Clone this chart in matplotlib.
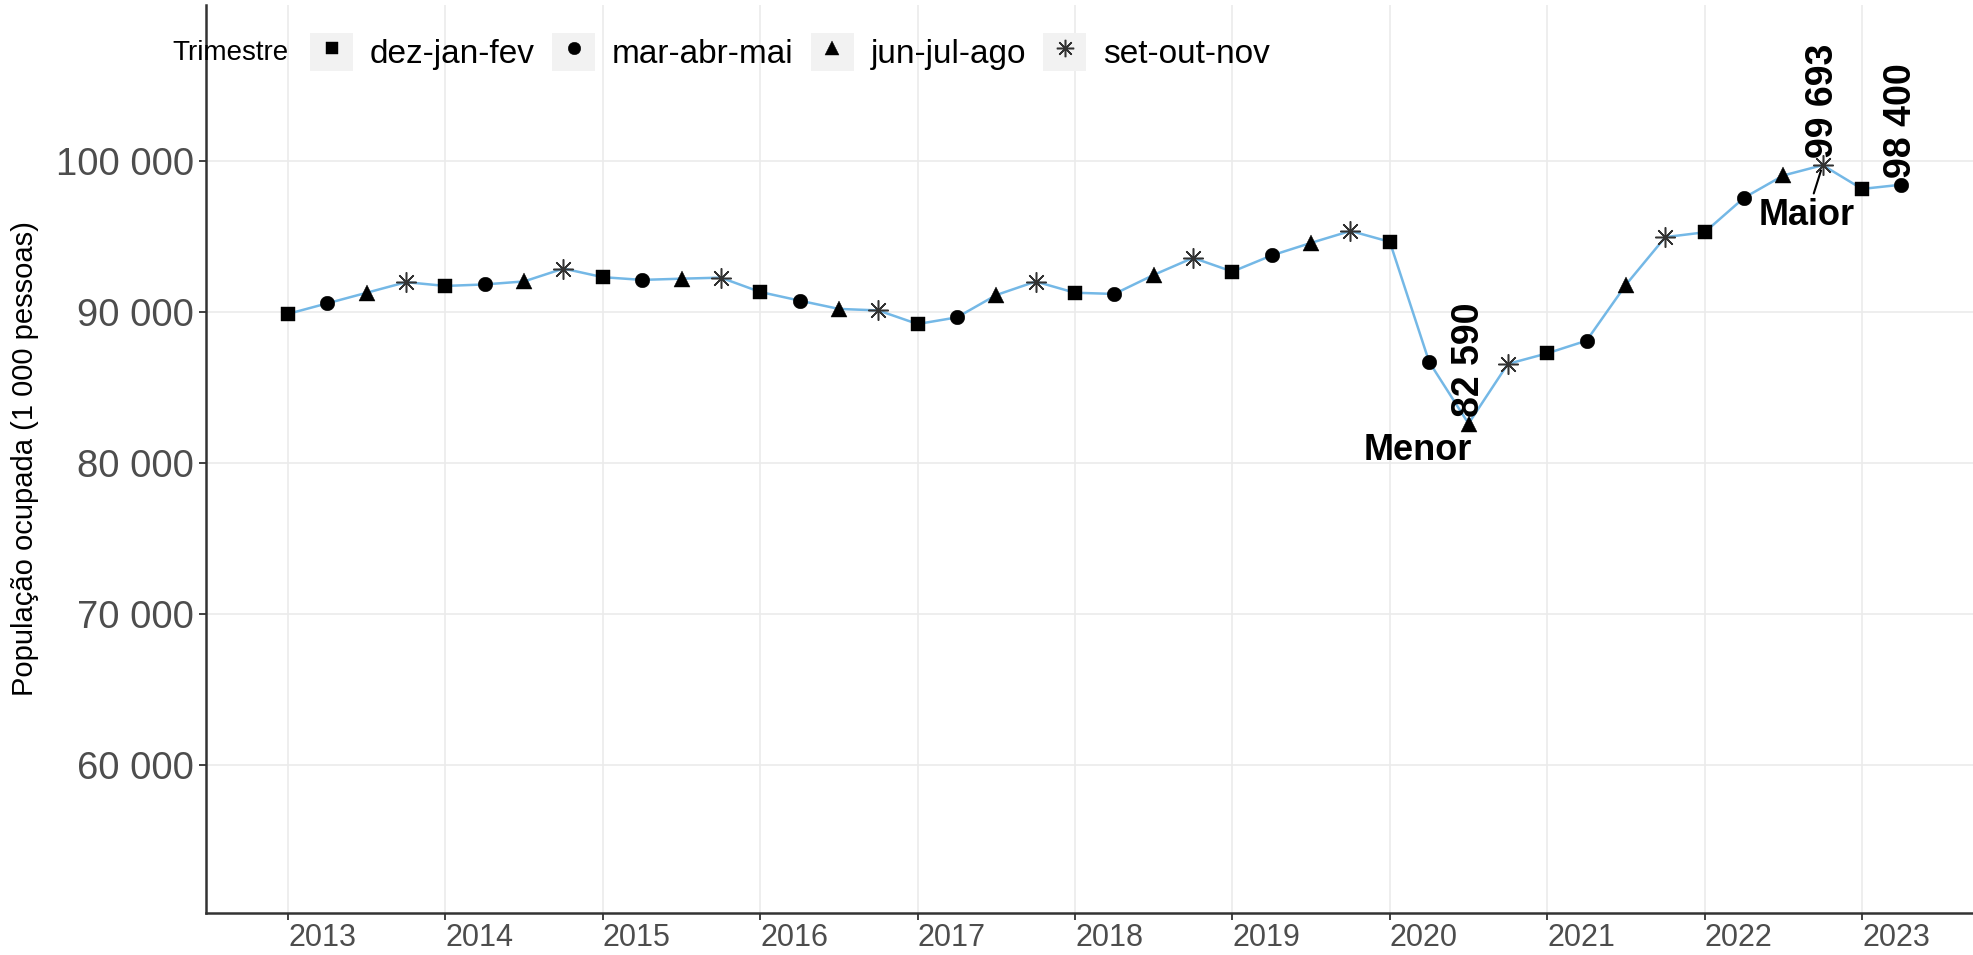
import matplotlib
matplotlib.use("Agg")
import matplotlib.pyplot as plt
from matplotlib.legend_handler import HandlerLine2D
from matplotlib.patches import Rectangle
from matplotlib.lines import Line2D
from matplotlib.ticker import FuncFormatter, FixedLocator

plt.rcParams["font.family"] = ["Liberation Sans", "DejaVu Sans"]

# ---- data ----
trimestres = ["dez-jan-fev", "mar-abr-mai", "jun-jul-ago", "set-out-nov"]
ano_inicial = 2013
valores = [
    89850, 90550, 91250, 91950,   # 2013
    91700, 91800, 92000, 92850,   # 2014
    92280, 92100, 92180, 92250,   # 2015
    91300, 90730, 90180, 90080,   # 2016
    89180, 89620, 91100, 91990,   # 2017
    91250, 91170, 92430, 93560,   # 2018
    92650, 93720, 94550, 95340,   # 2019
    94620, 86670, 82590, 86540,   # 2020
    87240, 88080, 91780, 94930,   # 2021
    95250, 97530, 99010, 99693,   # 2022
    98120, 98400,                 # 2023
]
anos_ticks = list(range(2013, 2024))
y_ticks = [60000, 70000, 80000, 90000, 100000]

n = len(valores)
tempo = [ano_inicial + i // 4 + (i % 4) * 0.25 for i in range(n)]
trim_idx = [i % 4 for i in range(n)]

i_min = valores.index(min(valores))
i_max = valores.index(max(valores))
i_last = n - 1

# ---- styles ----
line_color = "#74B8E6"
markers = ["s", "o", "^", (8, 2, 0)]
msizes = [10.5, 10.5, 11, 14.5]
leg_msizes = [9, 9, 9.5, 12.5]

fig = plt.figure(figsize=(19.73, 9.55), dpi=100)
ax = fig.add_axes([206 / 1973, 42 / 955, 1767 / 1973, 908 / 955])

ax.plot(tempo, valores, color=line_color, lw=1.8, zorder=2)
handles = []
for q in range(4):
    xs = [t for t, k in zip(tempo, trim_idx) if k == q]
    ys = [v for v, k in zip(valores, trim_idx) if k == q]
    if q == 3:
        style = dict(mec="#333333", mfc="none", mew=1.1)
    else:
        style = dict(mec="black", mfc="black", mew=0.3)
    ax.plot(xs, ys, ls="none", marker=markers[q], ms=msizes[q], zorder=3, **style)
    handles.append(Line2D([], [], ls="none", marker=markers[q], ms=leg_msizes[q], **style))

ax.set_xlim(2012.479, 2023.705)
ax.set_ylim(50205, 110291)
ax.xaxis.set_major_locator(FixedLocator(anos_ticks))
ax.yaxis.set_major_locator(FixedLocator(y_ticks))
ax.yaxis.set_major_formatter(FuncFormatter(lambda v, p: f"{v:,.0f}".replace(",", " ")))

ax.grid(True, color="#EBEBEB", lw=1.2, zorder=0)
ax.set_axisbelow(True)
for s in ["top", "right"]:
    ax.spines[s].set_visible(False)
for s in ["left", "bottom"]:
    ax.spines[s].set_color("#333333")
    ax.spines[s].set_linewidth(1.8)
ax.tick_params(axis="both", direction="out", length=5, width=1.3, color="#333333",
               colors="#4D4D4D")
ax.tick_params(axis="y", labelsize=27.5, pad=3.6)
ax.tick_params(axis="x", labelsize=22, pad=2)
for lab in ax.get_xticklabels():
    lab.set_horizontalalignment("left")
for lab in ax.get_xticklabels() + ax.get_yticklabels():
    lab.set_color("#4D4D4D")

ax.set_ylabel("População ocupada (1 000 pessoas)", fontsize=21, color="black", labelpad=12)

# ---- value labels ----
def fmt(v):
    return f"{v:,.0f}".replace(",", " ")

for i in [i_min, i_max, i_last]:
    ax.annotate(fmt(valores[i]), xy=(tempo[i], valores[i]), xytext=(0, 5),
                textcoords="offset points", rotation=90, rotation_mode="anchor",
                ha="left", va="center", fontsize=27, fontweight="bold", zorder=5)

ax.annotate("Menor", xy=(tempo[i_min], valores[i_min]), xytext=(2020.18, 80840),
            ha="center", va="center", fontsize=26, fontweight="bold", zorder=5)
ax.annotate("Maior", xy=(tempo[i_max], valores[i_max]), xytext=(2022.65, 96390),
            ha="center", va="center", fontsize=26, fontweight="bold", zorder=5,
            arrowprops=dict(arrowstyle="-", lw=1.5, color="black", shrinkA=1, shrinkB=4))

# ---- legend ----
class KeyHandler(HandlerLine2D):
    def create_artists(self, legend, orig_handle, xdescent, ydescent, width, height,
                       fontsize, trans):
        rect = Rectangle((-xdescent, -ydescent), width, height, facecolor="#F2F2F2",
                         edgecolor="none", transform=trans)
        arts = super().create_artists(legend, orig_handle, xdescent, ydescent, width,
                                      height, fontsize, trans)
        return [rect] + list(arts)

leg_fs = 24
fpx = leg_fs * 100 / 72
leg = fig.legend(handles, trimestres, loc="center left",
                 bbox_to_anchor=(310 / 1973, 1 - 52 / 955), ncol=4, frameon=False,
                 fontsize=leg_fs, borderpad=0, borderaxespad=0,
                 handlelength=43 / fpx, handleheight=47 / fpx,
                 handletextpad=17 / fpx, columnspacing=17 / fpx, numpoints=1,
                 handler_map={Line2D: KeyHandler()})
fig.text(172 / 1973, 1 - 53 / 955, "Trimestre", fontsize=20, ha="left", va="center")

fig.savefig("out.png", dpi=100)
